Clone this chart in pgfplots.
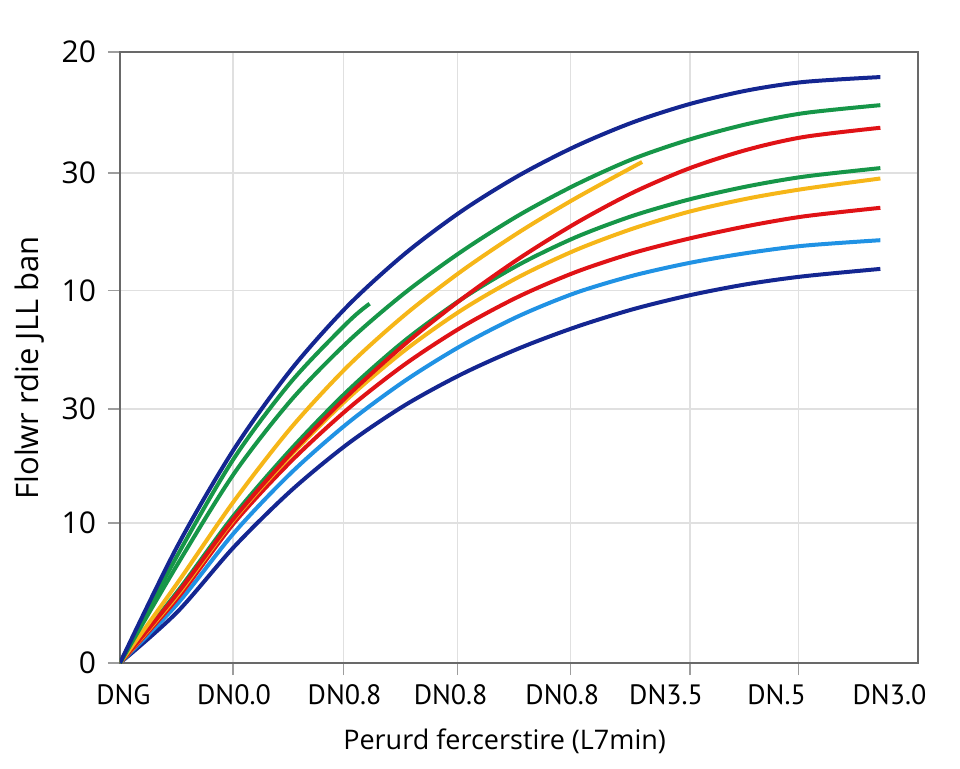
\documentclass[border=0pt]{standalone}
\usepackage{fontspec}
\setmainfont{Open Sans}
\newfontfamily\ptsans{PT Sans}
\usepackage{pgfplots}
\pgfplotsset{compat=1.18}
\definecolor{dblue}{RGB}{20,38,145}
\definecolor{cgreen}{RGB}{22,150,72}
\definecolor{cred}{RGB}{224,18,22}
\definecolor{corange}{RGB}{246,182,24}
\definecolor{lblue}{RGB}{32,146,228}
\definecolor{gridc}{RGB}{224,224,224}
\definecolor{framec}{RGB}{105,105,105}
\begin{document}
\begin{tikzpicture}
\useasboundingbox (-60pt,-52.5pt) rectangle (420pt,331.5pt);
\begin{axis}[
  at={(0,0)}, anchor=south west,
  width=399pt, height=305.5pt, scale only axis,
  xmin=0, xmax=7, ymin=0, ymax=100,
  axis line style={framec, line width=1pt},
  grid=major, grid style={gridc, line width=0.7pt},
  xtick pos=bottom, ytick pos=left,
  tick align=outside, major tick length=6pt,
  tick style={gridc!70!black, line width=0.7pt},
  xtick={0.99,1.96,2.96,3.95,5.0,5.95},
  xticklabels={},
  extra x ticks={0.03,1.0,1.97,2.9,3.88,4.79,5.76,6.75},
  extra x tick labels={DNG,DN0.0,DN0.8,DN0.8,DN0.8,DN3.5,DN.5,DN3.0},
  extra x tick style={major tick length=0pt, grid=none},
  xticklabel style={font=\ptsans\fontsize{14}{16}\selectfont, anchor=center, yshift=-16pt},
  ytick={0,22.9,41.6,61.0,80.2,100},
  yticklabels={0,10,30,10,30,20},
  yticklabel style={font=\fontsize{15}{17}\selectfont, anchor=east, xshift=-2.5pt},
  xlabel={Perurd fercerstire (L7min)},
  xlabel style={at={(axis description cs:0.482,-0.1277)}, anchor=center, font=\fontsize{13.5}{15}\selectfont},
  ylabel={Flolwr rdie JLL ban},
  ylabel style={at={(axis description cs:-0.1128,0.483)}, anchor=center, rotate=0, font=\fontsize{15.5}{17}\selectfont},
  every axis plot/.append style={line width=2pt, smooth},
]
% bottom dark blue
\addplot[dblue] coordinates {(0,0)(0.5,8.3)(1,19.0)(1.5,28.2)(2,35.9)(2.5,42.2)(3,47.3)(3.5,51.5)(4,55.0)(4.5,57.9)(5,60.2)(5.5,62.0)(6,63.3)(6.67,64.5)};
% light blue
\addplot[lblue] coordinates {(0,0)(0.5,9.6)(1,21.3)(1.5,31.1)(2,39.3)(2.5,46.2)(3,52.0)(3.5,56.8)(4,60.6)(4.5,63.4)(5,65.5)(5.5,67.1)(6,68.3)(6.67,69.2)};
% lower red
\addplot[cred] coordinates {(0,0)(0.5,10.5)(1,22.9)(1.5,33.0)(2,41.6)(2.5,48.9)(3,55.0)(3.5,60.0)(4,64.0)(4.5,67.1)(5,69.5)(5.5,71.5)(6,73.1)(6.67,74.5)};
% lower orange
\addplot[corange] coordinates {(0,0)(0.5,11.0)(1,23.5)(1.5,34.0)(2,43.3)(2.5,51.2)(3,57.8)(3.5,63.2)(4,67.6)(4.5,71.1)(5,73.9)(5.5,76.0)(6,77.6)(6.67,79.3)};
% lower green
\addplot[cgreen] coordinates {(0,0)(0.5,11.6)(1,24.2)(1.5,35.0)(2,44.6)(2.5,52.8)(3,59.6)(3.5,65.2)(4,69.7)(4.5,73.2)(5,75.9)(5.5,78.0)(6,79.6)(6.67,81.0)};
% upper red
\addplot[cred] coordinates {(0,0)(0.5,11.3)(1,23.7)(1.5,34.3)(2,43.8)(2.5,52.2)(3,59.6)(3.5,66.2)(4,72.0)(4.5,77.0)(5,81.0)(5.5,84.0)(6,86.1)(6.67,87.6)};
% short orange
\addplot[corange] coordinates {(0,0)(0.5,13.0)(1,26.5)(1.5,38.5)(2,48.6)(2.5,57.0)(3,64.2)(3.5,70.5)(4,76.1)(4.58,82.0)};
% upper green
\addplot[cgreen] coordinates {(0,0)(0.5,16.0)(1,31.0)(1.5,43.0)(2,52.6)(2.5,60.6)(3,67.4)(3.5,73.3)(4,78.3)(4.5,82.5)(5,85.7)(5.5,88.2)(6,90.0)(6.67,91.3)};
% short green
\addplot[cgreen] coordinates {(0,0)(0.5,17.5)(1,33.5)(1.5,46.0)(2,55.8)(2.19,58.8)};
% top dark blue
\addplot[dblue] coordinates {(0,0)(0.5,19.0)(1,35.0)(1.5,48.0)(2,58.5)(2.5,67.0)(3,74.0)(3.5,79.8)(4,84.6)(4.5,88.5)(5,91.5)(5.5,93.7)(6,95.1)(6.67,95.9)};
\end{axis}
\end{tikzpicture}
\end{document}
